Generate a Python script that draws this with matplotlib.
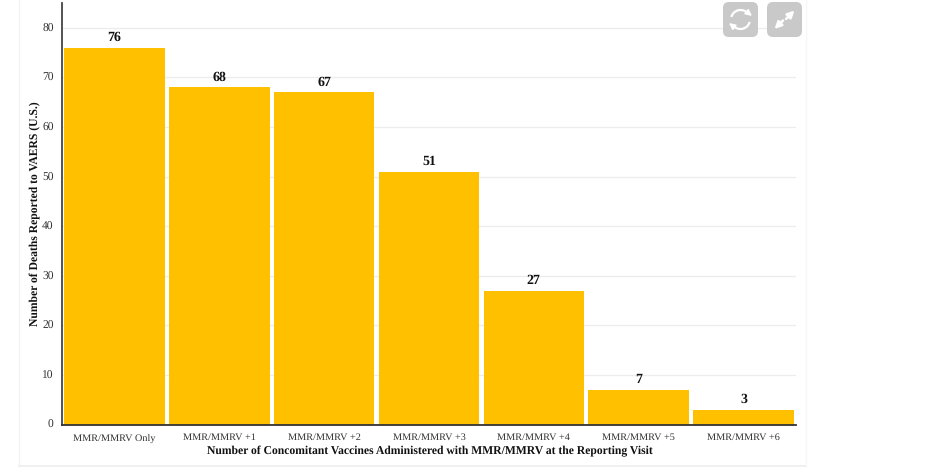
import matplotlib
matplotlib.use('Agg')
import matplotlib.pyplot as plt
from matplotlib.patches import FancyBboxPatch, Arc
from matplotlib.transforms import ScaledTranslation

plt.rcParams['font.family'] = ['Liberation Serif', 'DejaVu Serif']
plt.rcParams['text.hinting'] = 'none'

categories = ['MMR/MMRV Only', 'MMR/MMRV +1', 'MMR/MMRV +2', 'MMR/MMRV +3',
              'MMR/MMRV +4', 'MMR/MMRV +5', 'MMR/MMRV +6']
deaths = [76, 68, 67, 51, 27, 7, 3]
y_ticks = [0, 10, 20, 30, 40, 50, 60, 70, 80]

W, H = 940, 469
fig = plt.figure(figsize=(W / 100, H / 100), dpi=100)

# page overlay in pixel coordinates, for the panel edge and the two buttons
page = fig.add_axes([0, 0, 1, 1], zorder=0)
page.set_xlim(0, W)
page.set_ylim(H, 0)
page.axis('off')
page.plot([18.5, 18.5], [0, 466.5], color='#f3f3f3', lw=1)
page.plot([18.5, 806], [466.5, 466.5], color='#eeeeee', lw=1.2)
page.plot([806, 806], [0, 466.5], color='#f7f7f7', lw=1)

# plot area
ax = fig.add_axes([62 / W, 1 - 424.5 / H, (796 - 62) / W, (424.5 - 3) / H], zorder=1)
ax.patch.set_alpha(0)
x = list(range(len(categories)))
bars = ax.bar(x, deaths, width=0.96, color='#ffc000', zorder=2)
ax.set_xlim(-0.5, 6.5)
ax.set_ylim(0, 85)
ax.set_yticks(y_ticks)
ax.set_xticks(x)
ax.set_xticklabels(categories, va='baseline')
ax.tick_params(axis='both', length=0, labelcolor='#333333')
ax.tick_params(axis='x', pad=11.2, labelsize=7.4)
ax.tick_params(axis='y', pad=6, labelsize=8.3)
# the descender in "Only" lifts that label, push it back in line with the rest
first = ax.get_xticklabels()[0]
first.set_transform(first.get_transform() + ScaledTranslation(0, -1.1 / 72, fig.dpi_scale_trans))
# nudge the y labels down a little so they sit on their grid lines
nudge = ScaledTranslation(0, -0.7 / 72, fig.dpi_scale_trans)
for t in ax.get_yticklabels():
    t.set_verticalalignment('center')
    t.set_transform(t.get_transform() + nudge)
ax.grid(axis='y', color='#ececec', lw=0.9, zorder=0)
ax.set_axisbelow(True)
for s in ['top', 'right']:
    ax.spines[s].set_visible(False)
ax.spines['left'].set_color('#444444')
ax.spines['left'].set_linewidth(1.3)
ax.spines['bottom'].set_color('#333333')
ax.spines['bottom'].set_linewidth(1.3)

for b, v in zip(bars, deaths):
    ax.annotate(str(v), (b.get_x() + b.get_width() / 2, v), xytext=(0, 2.7),
                textcoords='offset points', ha='center', va='bottom',
                fontsize=10, fontweight='bold', color='#111111')

fig.text(35.5 / W, 1 - 213.5 / H, 'Number of Deaths Reported to VAERS (U.S.)', rotation=90,
         ha='center', va='center', fontsize=8.4, fontweight='bold', color='#111111')
fig.text(429.5 / W, 1 - 451 / H,
         'Number of Concomitant Vaccines Administered with MMR/MMRV at the Reporting Visit',
         ha='center', va='center', fontsize=8.35, fontweight='bold', color='#111111')

# buttons on top of the grid
top = fig.add_axes([0, 0, 1, 1], zorder=3)
top.set_xlim(0, W)
top.set_ylim(H, 0)
top.axis('off')
for left in [723, 767]:
    top.add_patch(FancyBboxPatch((left, 2), 35, 35, boxstyle='round,pad=0,rounding_size=6',
                                 mutation_scale=1, fc='#c9c9c9', ec='none'))
top.add_patch(Arc((740.5, 19.5), 19, 19, theta1=195, theta2=325, color='white', lw=1.6))
top.add_patch(Arc((740.5, 19.5), 19, 19, theta1=15, theta2=145, color='white', lw=1.6))
top.annotate('', xy=(752, 16), xytext=(747, 12), arrowprops=dict(arrowstyle='-|>', color='white', lw=1.2, mutation_scale=9, shrinkA=0, shrinkB=0))
top.annotate('', xy=(729, 23), xytext=(734, 27), arrowprops=dict(arrowstyle='-|>', color='white', lw=1.2, mutation_scale=9, shrinkA=0, shrinkB=0))
top.annotate('', xy=(794.5, 10.5), xytext=(786, 19), arrowprops=dict(arrowstyle='-|>', color='white', lw=1.8, mutation_scale=10, shrinkA=0, shrinkB=0))
top.annotate('', xy=(774.5, 29), xytext=(783, 20.5), arrowprops=dict(arrowstyle='-|>', color='white', lw=1.8, mutation_scale=10, shrinkA=0, shrinkB=0))

fig.savefig('out.png', dpi=100)
